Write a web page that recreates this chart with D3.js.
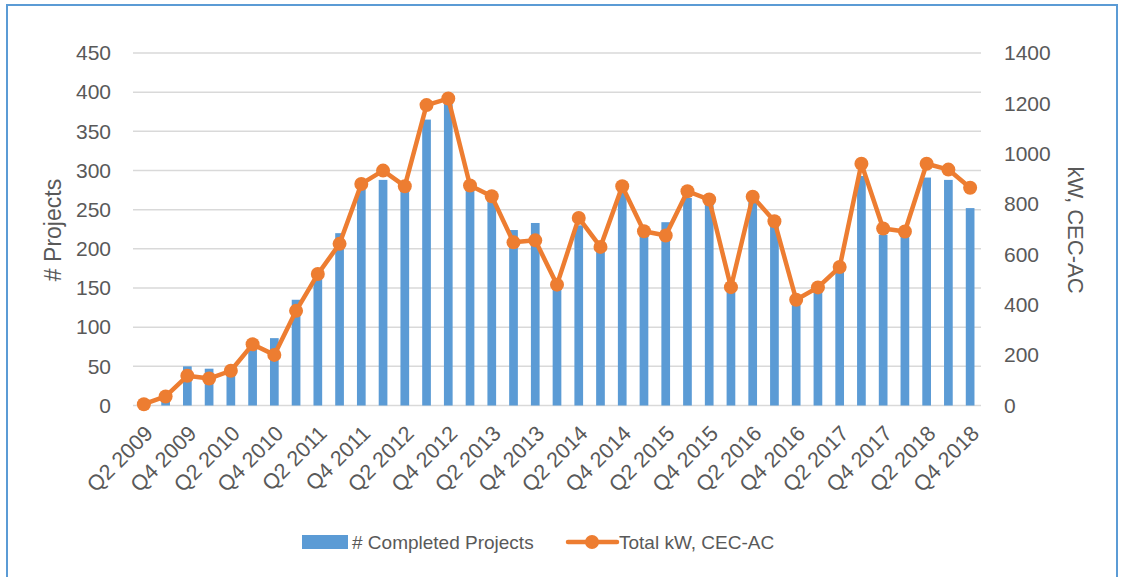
<!DOCTYPE html>
<html>
<head>
<meta charset="utf-8">
<script src="https://cdn.jsdelivr.net/npm/d3@7"></script>
<style>
  body { margin: 0; background: #fff; }
  text { font-family: "Liberation Sans", Arial, sans-serif; fill: #595959; }
</style>
</head>
<body>
<div id="chart"></div>
<script>
// quarters Q2 2009 .. Q4 2018
var quarters = [];
for (var yr = 2009; yr <= 2018; yr++) {
    for (var q = 1; q <= 4; q++) {
        if (yr == 2009 && q == 1) continue;
        quarters.push("Q" + q + " " + yr);
    }
}

var projects = [0, 8, 50, 47, 48, 78, 86, 135, 162, 220, 277, 288, 275, 365, 388, 277, 262, 224, 233, 150,
    230, 200, 272, 221, 234, 265, 259, 150, 262, 231, 135, 148, 171, 293, 218, 219, 291, 288, 252];

var totalKW = [5, 36, 118, 107, 138, 243, 201, 376, 522, 642, 880, 933, 871, 1193, 1219, 874, 831, 648, 656, 480,
    745, 630, 871, 692, 675, 851, 818, 470, 829, 732, 420, 469, 550, 960, 703, 691, 960, 937, 865];

var leftTicks = [0, 50, 100, 150, 200, 250, 300, 350, 400, 450];
var rightTicks = [0, 200, 400, 600, 800, 1000, 1200, 1400];

var W = 1121, H = 577;
var margin = { top: 53, right: 140, bottom: 171.5, left: 133 };
var width = 981 - margin.left,
    height = 405.5 - margin.top;

var svg = d3.select("#chart").append("svg")
    .attr("width", W)
    .attr("height", H);

// outer frame
svg.append("rect")
    .attr("x", 7).attr("y", 5)
    .attr("width", 1110).attr("height", 620)
    .attr("fill", "none")
    .attr("stroke", "#5b9bd5")
    .attr("stroke-width", 2);

var g = svg.append("g")
    .attr("transform", "translate(" + margin.left + "," + margin.top + ")");

var x = d3.scaleBand()
    .domain(quarters)
    .range([0, width])
    .paddingInner(0.6)
    .paddingOuter(0.3);

var xc = function(d) { return x(d) + x.bandwidth() / 2; };

var yL = d3.scaleLinear().domain([0, 450]).range([height, 0]);
var yR = d3.scaleLinear().domain([0, 1400]).range([height, 0]);

// gridlines
g.append("g")
    .selectAll("line")
    .data(leftTicks)
    .enter().append("line")
    .attr("x1", 0).attr("x2", width)
    .attr("y1", function(d) { return yL(d); })
    .attr("y2", function(d) { return yL(d); })
    .attr("stroke", "#d9d9d9")
    .attr("stroke-width", 1.5);

// left axis
var yAxisL = d3.axisLeft(yL).tickValues(leftTicks).tickSize(0).tickPadding(22);
var gL = g.append("g").call(yAxisL);
gL.select(".domain").remove();
gL.selectAll("text").style("font-size", "21px").attr("fill", "#595959");

// right axis
var yAxisR = d3.axisRight(yR).tickValues(rightTicks).tickFormat(d3.format("d")).tickSize(0).tickPadding(23);
var gR = g.append("g").attr("transform", "translate(" + width + ",0)").call(yAxisR);
gR.select(".domain").remove();
gR.selectAll("text").style("font-size", "21px").attr("fill", "#595959");

// x axis
var xAxis = d3.axisBottom(x)
    .tickValues(quarters.filter(function(d, i) { return i % 2 == 0; }))
    .tickSize(0);
var gX = g.append("g").attr("transform", "translate(0," + height + ")").call(xAxis);
gX.select(".domain").remove();
gX.selectAll("text")
    .style("font-size", "21.5px")
    .attr("fill", "#595959")
    .attr("text-anchor", "end")
    .attr("dy", "0.35em")
    .attr("transform", "translate(5,24) rotate(-45)")
    .attr("y", 0).attr("x", 0);

// bars
g.append("g")
    .selectAll("rect")
    .data(projects)
    .enter().append("rect")
    .attr("x", function(d, i) { return x(quarters[i]); })
    .attr("width", x.bandwidth())
    .attr("y", function(d) { return yL(d); })
    .attr("height", function(d) { return height - yL(d); })
    .attr("fill", "#5b9bd5");

// line
var line = d3.line()
    .x(function(d, i) { return xc(quarters[i]); })
    .y(function(d) { return yR(d); });

g.append("path")
    .datum(totalKW)
    .attr("d", line)
    .attr("fill", "none")
    .attr("stroke", "#ed7d31")
    .attr("stroke-width", 4.5)
    .attr("stroke-linejoin", "round");

g.append("g")
    .selectAll("circle")
    .data(totalKW)
    .enter().append("circle")
    .attr("cx", function(d, i) { return xc(quarters[i]); })
    .attr("cy", function(d) { return yR(d); })
    .attr("r", 7)
    .attr("fill", "#ed7d31");

// axis titles
svg.append("text")
    .attr("transform", "translate(61,230) rotate(-90)")
    .attr("text-anchor", "middle")
    .style("font-size", "23px")
    .text("# Projects");

svg.append("text")
    .attr("transform", "translate(1068,230) rotate(90)")
    .attr("text-anchor", "middle")
    .style("font-size", "22px")
    .text("kW, CEC-AC");

// legend
var leg = svg.append("g");
leg.append("rect")
    .attr("x", 302).attr("y", 535)
    .attr("width", 46).attr("height", 14)
    .attr("fill", "#5b9bd5");
leg.append("text")
    .attr("x", 352).attr("y", 549)
    .style("font-size", "19px")
    .text("# Completed Projects");
leg.append("line")
    .attr("x1", 568).attr("x2", 617)
    .attr("y1", 542).attr("y2", 542)
    .attr("stroke", "#ed7d31")
    .attr("stroke-width", 4.5)
    .attr("stroke-linecap", "round");
leg.append("circle")
    .attr("cx", 592).attr("cy", 542).attr("r", 7)
    .attr("fill", "#ed7d31");
leg.append("text")
    .attr("x", 619).attr("y", 549)
    .style("font-size", "19px")
    .text("Total kW, CEC-AC");
</script>
</body>
</html>
